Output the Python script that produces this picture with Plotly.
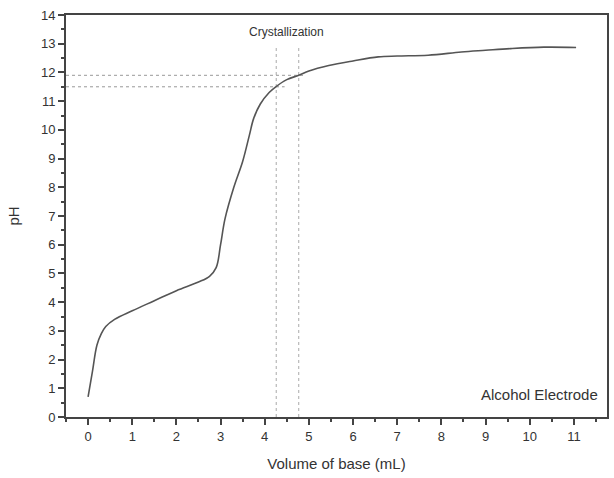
import plotly.graph_objects as go

# Titration curve data (volume of base in mL, pH)
volume = [0.0, 0.1, 0.2, 0.3, 0.4, 0.6, 1.0, 1.5, 2.0, 2.5, 2.75, 2.9, 3.0, 3.1, 3.3, 3.5,
          3.65, 3.75, 3.9, 4.1, 4.25, 4.5, 4.77, 5.0, 5.45, 6.0, 6.57, 7.0, 7.7, 8.45,
          9.0, 9.57, 10.32, 11.05]
ph = [0.7, 1.6, 2.5, 2.9, 3.15, 3.4, 3.7, 4.05, 4.4, 4.7, 4.9, 5.2, 6.0, 6.9, 8.0, 8.9,
      9.8, 10.4, 10.9, 11.3, 11.5, 11.75, 11.9, 12.05, 12.24, 12.4, 12.54, 12.57, 12.6, 12.71,
      12.77, 12.83, 12.88, 12.87]

# Crystallization markers
cryst_volumes = [4.26, 4.77]
cryst_ph = [11.5, 11.9]
cryst_h_end = [4.45, 4.9]
cryst_v_top = 12.9

x_ticks = list(range(0, 12))
y_ticks = list(range(0, 15))

fig = go.Figure()

for v in cryst_volumes:
    fig.add_trace(go.Scatter(x=[v, v], y=[0, cryst_v_top], mode="lines",
                             line=dict(color="#aaaaaa", width=1, dash="dot"),
                             hoverinfo="skip", showlegend=False))
for p, xe in zip(cryst_ph, cryst_h_end):
    fig.add_trace(go.Scatter(x=[-0.5, xe], y=[p, p], mode="lines",
                             line=dict(color="#999999", width=1, dash="dot"),
                             hoverinfo="skip", showlegend=False))

fig.add_trace(go.Scatter(x=volume, y=ph, mode="lines", line_shape="spline",
                         line=dict(color="#555555", width=1.6), showlegend=False))

fig.add_annotation(x=4.5, y=13.4, text="Crystallization", showarrow=False,
                   font=dict(size=12, color="#333333"), xref="x", yref="y")
fig.add_annotation(x=1, y=0, xref="paper", yref="paper", xanchor="right", yanchor="bottom",
                   xshift=-7, yshift=12,
                   text="Alcohol Electrode", showarrow=False,
                   font=dict(size=15, color="#333333"))

fig.update_layout(
    width=614, height=478,
    margin=dict(l=66, r=5, t=15, b=61),
    paper_bgcolor="white", plot_bgcolor="white",
    font=dict(family="Liberation Sans, Arial, sans-serif", color="#333333"),
    xaxis=dict(range=[-0.5, 11.75], tickvals=x_ticks, ticks="outside", ticklen=6, tickwidth=1.5,
               tickcolor="#444444", showline=True, linecolor="#444444", linewidth=1.8,
               mirror=True, showgrid=False, zeroline=False,
               tickfont=dict(size=13, color="#333333"),
               minor=dict(dtick=0.5, tick0=0, ticks="outside", ticklen=3, tickcolor="#444444", showgrid=False),
               title=dict(text="Volume of base (mL)", font=dict(size=15, color="#333333"), standoff=16)),
    yaxis=dict(range=[0, 14], tickvals=y_ticks, ticks="outside", ticklen=6, tickwidth=1.5,
               tickcolor="#444444", showline=True, linecolor="#444444", linewidth=1.8,
               mirror=True, showgrid=False, zeroline=False,
               tickfont=dict(size=13, color="#333333"),
               minor=dict(dtick=0.5, tick0=0, ticks="outside", ticklen=3, tickcolor="#444444", showgrid=False),
               title=dict(text="pH", font=dict(size=15, color="#333333"), standoff=18)),
)

fig.write_html("out.html")
